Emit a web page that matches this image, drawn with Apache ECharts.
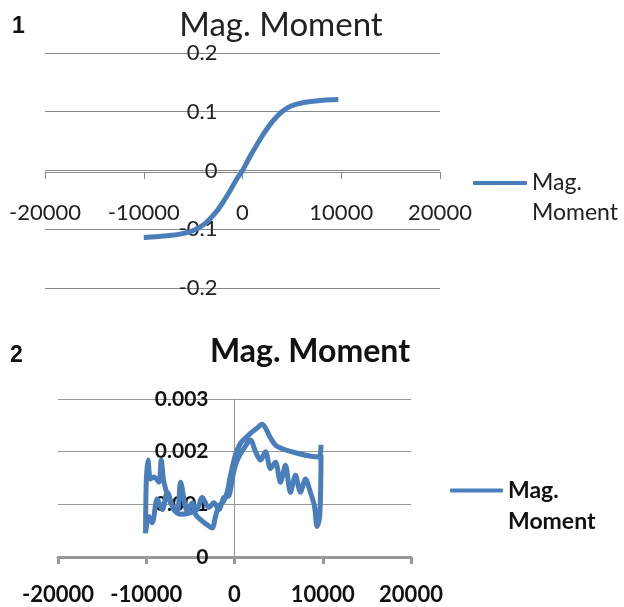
<!DOCTYPE html>
<html>
<head>
<meta charset="utf-8">
<script src="https://cdn.jsdelivr.net/npm/echarts@6/dist/echarts.min.js"></script>
<style>html,body{margin:0;padding:0;background:#fff}#c{width:624px;height:607px}</style>
</head>
<body>
<div id="c"></div>
<script>
// Chart 1: smooth S-shaped magnetization curve
var field1 = [-10000, -7650, -6000, -4600, -3000, -1570, -560, 0, 800, 1500, 2480, 3490, 4500, 5500, 7150, 9700];
var moment1 = [-0.114, -0.111, -0.107, -0.099, -0.077, -0.043, -0.014, 0, 0.025, 0.045, 0.071, 0.092, 0.106, 0.113, 0.118, 0.121];
// Chart 2: noisy loop (descending then ascending branch)
var field2 = [9800, 9550, 7100, 4830, 4080, 3510, 3130, 2570, 1620, 680, 110, -450, -830, -1210, -1770, -2150, -2530, -3090, -3850, -4420, -4790, -5360, -6110, -6490, -7250, -8000, -8300, -8570, -9130, -9510, -9810, -10000, -10080,
  -9700, -9320, -8760, -8190, -7620, -6870, -6110, -4980, -4230, -3660, -2910, -2340, -1770, -1210, -640, -260, 110, 490, 1060, 1810, 2380, 2940, 3510, 4080, 4640, 5210, 5770, 6340, 6910, 7470, 8040, 8600, 9060, 9360, 9660, 9810];
var moment2 = [0.00213, 0.0019, 0.00197, 0.0021, 0.00226, 0.00245, 0.00252, 0.00245, 0.00232, 0.00216, 0.00194, 0.00155, 0.00123, 0.00106, 0.00097, 0.00077, 0.00055, 0.00061, 0.00071, 0.00081, 0.00103, 0.00087, 0.00142, 0.00087, 0.00103, 0.00142, 0.00184, 0.00142, 0.00152, 0.00148, 0.00184, 0.00142, 0.00045,
  0.00077, 0.00065, 0.0011, 0.0009, 0.00123, 0.0009, 0.00081, 0.00084, 0.0009, 0.00113, 0.00094, 0.00103, 0.0009, 0.00113, 0.00116, 0.00148, 0.00174, 0.0019, 0.00206, 0.00222, 0.002, 0.00184, 0.002, 0.00168, 0.0018, 0.00142, 0.00174, 0.00123, 0.00155, 0.00123, 0.00148, 0.00123, 0.00097, 0.00058, 0.00077, 0.00194];
var seriesName = 'Mag. Moment';
var titleText = 'Mag. Moment';
var legendText = ' \nMag.\nMoment';
var panelLabels = ['1', '2'];

function pairs(xs, ys) { return xs.map(function (x, i) { return [x, ys[i]]; }); }
function plain(v) { return String(Math.round(v * 1e6) / 1e6); }

var FONT = 'Lato';
var BLUE = '#4a7ebb';
var chart = echarts.init(document.getElementById('c'), null, { renderer: 'canvas' });
chart.setOption({
  animation: false,
  backgroundColor: '#fff',
  title: [
    { text: titleText, left: 281, top: 25, textAlign: 'center', textVerticalAlign: 'middle', padding: 0,
      textStyle: { fontFamily: FONT, fontSize: 33, fontWeight: 'normal', color: '#222' } },
    { text: titleText, left: 310, top: 352, textAlign: 'center', textVerticalAlign: 'middle', padding: 0,
      textStyle: { fontFamily: FONT, fontSize: 32, fontWeight: 'bold', color: '#111' } },
    { text: panelLabels[0], left: 12, top: 27, textVerticalAlign: 'middle', padding: 0,
      textStyle: { fontFamily: 'Liberation Sans', fontSize: 23, fontWeight: 'bold', color: '#111' } },
    { text: panelLabels[1], left: 10, top: 356, textVerticalAlign: 'middle', padding: 0,
      textStyle: { fontFamily: 'Liberation Sans', fontSize: 23, fontWeight: 'bold', color: '#111' } }
  ],
  legend: [
    { left: 473, top: 138, padding: 0, itemWidth: 54, itemHeight: 4, data: [{ name: seriesName, icon: 'roundRect' }],
      formatter: function () { return legendText; }, selectedMode: false,
      textStyle: { fontFamily: FONT, fontSize: 23, lineHeight: 30, color: '#222' } },
    { left: 450, top: 444, padding: 0, itemWidth: 53, itemHeight: 4, data: [{ name: seriesName, icon: 'roundRect' }],
      formatter: function () { return legendText; }, selectedMode: false,
      textStyle: { fontFamily: FONT, fontSize: 23, fontWeight: 'bold', lineHeight: 31, color: '#111' } }
  ],
  grid: [
    { left: 45, top: 53, width: 395, height: 235, containLabel: false },
    { left: 58, top: 399, width: 353, height: 158, containLabel: false }
  ],
  xAxis: [
    { type: 'value', gridIndex: 0, min: -20000, max: 20000, interval: 10000, position: 'bottom', offset: -116,
      axisLine: { show: true, onZero: false, lineStyle: { color: '#888', width: 1 } },
      axisTick: { show: true, length: 7, lineStyle: { color: '#888', width: 1 } },
      axisLabel: { margin: 30, fontFamily: FONT, fontSize: 22, color: '#222', formatter: plain },
      splitLine: { show: false } },
    { type: 'value', gridIndex: 1, min: -20000, max: 20000, interval: 10000, position: 'bottom',
      axisLine: { show: true, onZero: false, lineStyle: { color: '#999', width: 3 } },
      axisTick: { show: true, length: 7, lineStyle: { color: '#999', width: 3 } },
      axisLabel: { margin: 27, fontFamily: FONT, fontSize: 22, fontWeight: 'bold', color: '#111', formatter: plain },
      splitLine: { show: false } }
  ],
  yAxis: [
    { type: 'value', gridIndex: 0, min: -0.2, max: 0.2, interval: 0.1, position: 'left', offset: -197.5,
      axisLine: { show: false, onZero: false },
      axisTick: { show: false },
      axisLabel: { margin: 25, fontFamily: FONT, fontSize: 22, color: '#222', formatter: plain },
      splitLine: { show: true, lineStyle: { color: '#888', width: 1 } } },
    { type: 'value', gridIndex: 1, min: 0, max: 0.003, interval: 0.001, position: 'left', offset: -176.5,
      axisLine: { show: true, onZero: false, lineStyle: { color: '#999', width: 1 } },
      axisTick: { show: false },
      axisLabel: { margin: 26, fontFamily: FONT, fontSize: 21, fontWeight: 'bold', color: '#111', formatter: plain },
      splitLine: { show: true, lineStyle: { color: '#999', width: 1 } } }
  ],
  series: [
    { name: seriesName, type: 'line', xAxisIndex: 0, yAxisIndex: 0, data: pairs(field1, moment1),
      smooth: true, showSymbol: false, symbol: 'none', lineStyle: { color: BLUE, width: 5 }, itemStyle: { color: BLUE }, z: 3 },
    { name: seriesName, type: 'line', xAxisIndex: 1, yAxisIndex: 1, data: pairs(field2, moment2),
      smooth: 0.3, showSymbol: false, symbol: 'none', lineStyle: { color: BLUE, width: 5 }, itemStyle: { color: BLUE }, z: 3 }
  ]
});
</script>
</body>
</html>
